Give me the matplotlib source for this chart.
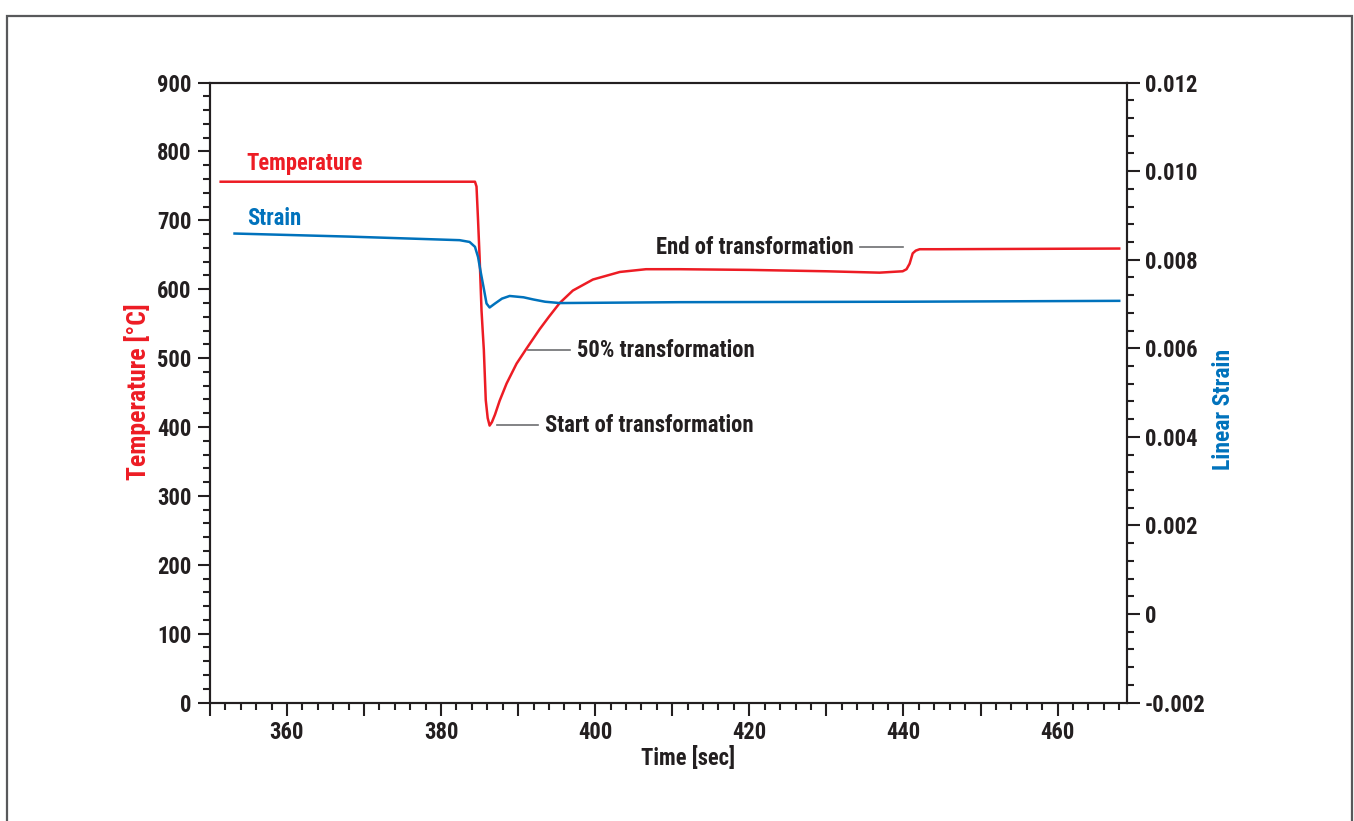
import numpy as np
import matplotlib.pyplot as plt
from matplotlib import font_manager as fm
from matplotlib.ticker import MultipleLocator, FuncFormatter
from matplotlib.patches import Rectangle

# pick a condensed bold face close to the Helvetica Condensed of the original
bold_static = set(f.name for f in fm.fontManager.ttflist
                  if f.weight in (700, 'bold') and '[' not in f.fname)
FONT = 'DejaVu Sans'
for name in ['Roboto Condensed', 'PT Sans Narrow', 'Liberation Sans Narrow',
             'Fira Sans Condensed', 'Barlow Semi Condensed', 'Asap Condensed']:
    if name in bold_static:
        FONT = name
        break

FS = 16.3
plt.rcParams['font.family'] = [FONT, 'DejaVu Sans']
plt.rcParams['font.weight'] = 'bold'
plt.rcParams['axes.labelweight'] = 'bold'
plt.rcParams['font.size'] = FS

RED = '#ed1c24'
BLUE = '#0072bc'
INK = '#231f20'

# temperature curve
temp_t = [351.4, 384.4, 384.6, 384.8, 385.0, 385.25, 385.4, 385.55, 385.8, 386.05,
          386.3, 386.6, 387.0, 387.6, 388.5, 389.8, 391.1, 392.8, 394.0, 395.4,
          397.1, 399.7, 403.2, 406.6, 411.0, 420.0, 430.0, 436.9, 439.9, 440.4,
          440.8, 441.2, 441.6, 442.1, 444.7, 468.0]
temp_c = [756, 756, 749, 700, 647, 569, 540, 512, 439, 413,
          402, 407, 418, 438, 463, 492, 514, 542, 560, 580,
          598, 614, 625, 629, 629, 628, 626, 624, 626, 629,
          637, 652, 656, 658, 658, 659]

# strain curve
strain_t = [353.2, 368.2, 382.4, 383.7, 384.4, 384.8, 385.1, 385.5, 385.9, 386.3,
            387.0, 387.9, 388.9, 390.7, 392.0, 393.5, 395.4, 411.0, 440.0, 468.0]
strain = [0.00859, 0.00852, 0.00844, 0.00840, 0.00829, 0.00806, 0.00776, 0.00739,
          0.00701, 0.00692, 0.00701, 0.00712, 0.00718, 0.00715, 0.00710, 0.00705,
          0.00702, 0.00704, 0.00705, 0.00707]

fig = plt.figure(figsize=(13.54, 8.21), dpi=100)
ax = fig.add_axes([0.155, 0.1443, 0.6773, 0.7552])
ax2 = ax.twinx()

ax.plot(temp_t, temp_c, color=RED, lw=1.8, zorder=3)
ax2.plot(strain_t, strain, color=BLUE, lw=1.8)

ax.set_xlim(350, 469)
ax.set_ylim(0, 900)
ax2.set_ylim(-0.002, 0.012)

ax.xaxis.set_major_locator(MultipleLocator(10))
ax.xaxis.set_minor_locator(MultipleLocator(2))
ax.xaxis.set_major_formatter(FuncFormatter(lambda v, p: '%d' % v if round(v) % 20 == 0 else ''))
ax.yaxis.set_major_locator(MultipleLocator(100))
ax.yaxis.set_minor_locator(MultipleLocator(20))
ax2.yaxis.set_major_locator(MultipleLocator(0.002))
ax2.yaxis.set_minor_locator(MultipleLocator(0.0004))
ax2.yaxis.set_major_formatter(FuncFormatter(lambda v, p: '0' if abs(v) < 1e-9 else '%.3f' % v))

for a in (ax, ax2):
    for s in a.spines.values():
        s.set_color(INK)
        s.set_linewidth(1.5)
    a.tick_params(which='major', length=9, width=1.5, color=INK, labelcolor=INK, pad=4, labelsize=FS)
    a.tick_params(which='minor', length=5, width=1.5, color=INK)

ax.set_xlabel('Time [sec]', color=INK, fontsize=FS)
ax.xaxis.set_label_coords(0.521, -0.0895)
ax.xaxis.label.set_va('center')
ax.set_ylabel('Temperature [°C]', color=RED, fontsize=18.5)
ax.yaxis.set_label_coords(-0.0784, 0.502)
ax.yaxis.label.set_va('center')
ax2.set_ylabel('Linear Strain', color=BLUE, fontsize=FS + 0.7, rotation=90)
ax2.yaxis.set_label_coords(1.1058, 0.4734)
ax2.yaxis.label.set_va('center')

# series labels
ax.text(354.8, 783, 'Temperature', color=RED, va='center', ha='left', fontsize=FS)
ax.text(354.8, 703, 'Strain', color=BLUE, va='center', ha='left', fontsize=FS)

# leader lines and notes
lead = '#6d6e71'
ax.plot([387.2, 392.6], [402.4, 402.4], color=lead, lw=1.2)
ax.text(393.5, 402.4, 'Start of transformation', color=INK, va='center', ha='left', fontsize=FS)
ax.plot([391.3, 396.7], [511.4, 511.4], color=lead, lw=1.2)
ax.text(397.6, 511.4, '50% transformation', color=INK, va='center', ha='left', fontsize=FS)
ax.plot([434.4, 439.9], [661.0, 661.0], color=lead, lw=1.2)
ax.text(433.6, 661.0, 'End of transformation', color=INK, va='center', ha='right', fontsize=FS)

# outer frame
fig.patches.append(Rectangle((7 / 1354, -0.05), 1345 / 1354, 1.04 - 8 / 821,
                             transform=fig.transFigure, fill=False,
                             edgecolor='#58595b', lw=1.6))

fig.savefig('out.png', dpi=100)
